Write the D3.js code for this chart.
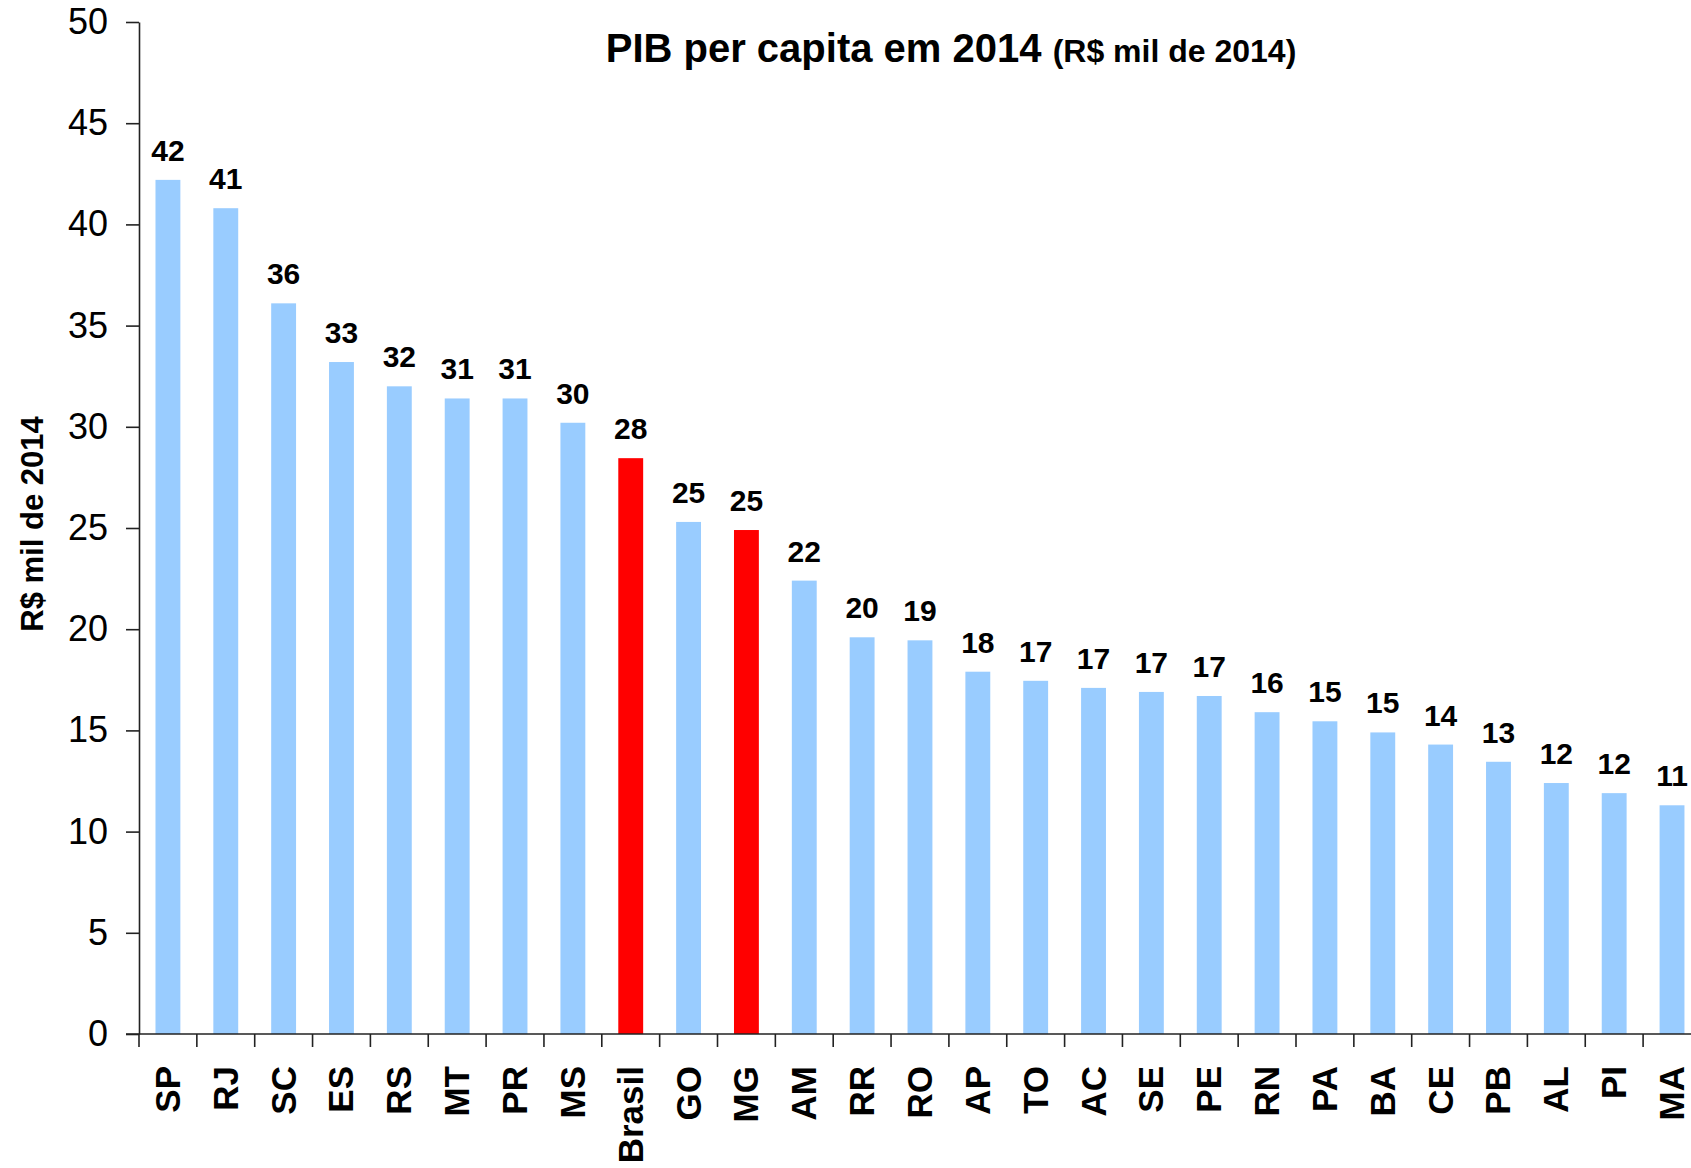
<!DOCTYPE html>
<html lang="pt">
<head>
<meta charset="UTF-8">
<title>PIB per capita em 2014</title>
<script src="https://d3js.org/d3.v7.min.js"></script>
<style>
  body { margin: 0; background: #fff; }
  svg { display: block; font-family: "Liberation Sans", Arial, sans-serif; }
</style>
</head>
<body>
<div id="chart"></div>
<script>
// estados + Brasil, ordenados pelo PIB per capita
const states = ["SP", "RJ", "SC", "ES", "RS", "MT", "PR", "MS", "Brasil", "GO", "MG", "AM", "RR", "RO",
  "AP", "TO", "AC", "SE", "PE", "RN", "PA", "BA", "CE", "PB", "AL", "PI", "MA"];
const pibPerCapita = [42.2, 40.8, 36.1, 33.2, 32.0, 31.4, 31.4, 30.2, 28.45, 25.3, 24.9, 22.4, 19.6, 19.45,
  17.9, 17.45, 17.1, 16.9, 16.7, 15.9, 15.45, 14.9, 14.3, 13.45, 12.4, 11.9, 11.3];
const highlighted = ["Brasil", "MG"];
const yTicks = [0, 5, 10, 15, 20, 25, 30, 35, 40, 45, 50];

const width = 1691, height = 1168;
const svg = d3.select("#chart").append("svg")
    .attr("width", width)
    .attr("height", height);

const y = d3.scaleLinear().domain([0, 50]).range([1034, 22]);
const x = d3.scaleBand().domain(states).range([139, 139 + 57.85 * states.length]).padding(0);
const barW = x.bandwidth() * 0.43;

// titulo
const title = svg.append("text")
    .attr("x", 951)
    .attr("y", 62)
    .attr("text-anchor", "middle")
    .attr("font-weight", "bold")
    .attr("fill", "#000");
title.append("tspan").attr("font-size", 40).text("PIB per capita em 2014 ");
title.append("tspan").attr("font-size", 32).text("(R$ mil de 2014)");

// eixo y
const yAxis = svg.append("g")
    .attr("transform", `translate(${x.range()[0]},0)`)
    .call(d3.axisLeft(y).tickValues(yTicks).tickSize(13).tickSizeOuter(0).tickPadding(18));
yAxis.select(".domain").attr("stroke", "#222").attr("stroke-width", 1.6);
yAxis.selectAll(".tick line").attr("stroke", "#222").attr("stroke-width", 1.6);
yAxis.selectAll(".tick text")
    .attr("font-size", 36)
    .attr("font-family", "'Liberation Sans', Arial, sans-serif")
    .attr("fill", "#000");

svg.append("text")
    .attr("transform", "translate(43,524) rotate(-90)")
    .attr("text-anchor", "middle")
    .attr("font-size", 31)
    .attr("font-weight", "bold")
    .text("R$ mil de 2014");

// barras
svg.append("g")
  .selectAll("rect")
  .data(states)
  .join("rect")
    .attr("x", (d) => x(d) + (x.bandwidth() - barW) / 2)
    .attr("y", (d, i) => y(pibPerCapita[i]))
    .attr("width", barW)
    .attr("height", (d, i) => y(0) - y(pibPerCapita[i]))
    .attr("fill", (d) => highlighted.includes(d) ? "#FF0000" : "#99CCFF");

// rotulos de valor
svg.append("g")
  .selectAll("text")
  .data(states)
  .join("text")
    .attr("x", (d) => x(d) + x.bandwidth() / 2)
    .attr("y", (d, i) => y(pibPerCapita[i]) - 19)
    .attr("text-anchor", "middle")
    .attr("font-size", 30)
    .attr("font-weight", "bold")
    .text((d, i) => d3.format(".0f")(pibPerCapita[i]));

// eixo x
const xAxis = svg.append("g");
xAxis.append("line")
    .attr("x1", 126).attr("x2", width)
    .attr("y1", y(0)).attr("y2", y(0))
    .attr("stroke", "#222").attr("stroke-width", 1.6);
xAxis.selectAll("line.tick")
  .data(states)
  .join("line")
    .attr("class", "tick")
    .attr("x1", (d) => x(d)).attr("x2", (d) => x(d))
    .attr("y1", y(0)).attr("y2", y(0) + 13)
    .attr("stroke", "#222").attr("stroke-width", 1.6);
xAxis.selectAll("text")
  .data(states)
  .join("text")
    .attr("transform", (d) => `translate(${x(d) + x.bandwidth() / 2 + 12},${y(0) + 32}) rotate(-90)`)
    .attr("text-anchor", "end")
    .attr("font-size", 35)
    .attr("font-weight", "bold")
    .text((d) => d);
</script>
</body>
</html>
